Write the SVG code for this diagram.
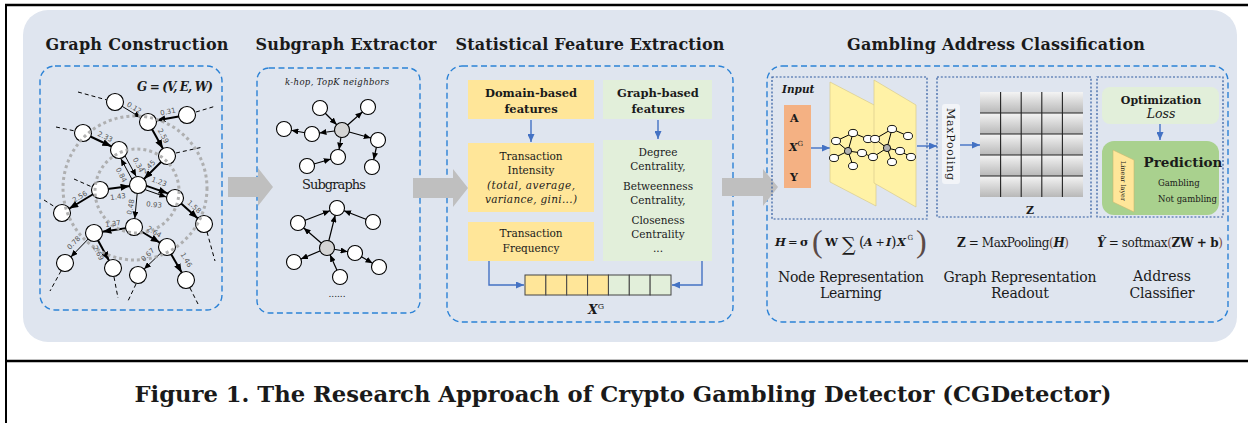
<svg xmlns="http://www.w3.org/2000/svg" width="1248" height="423" viewBox="0 0 1248 423">
<style>
.t{font-family:"DejaVu Serif","Liberation Serif",serif;fill:#1a1a1a}
.b{font-weight:bold}
.i{font-style:italic}
.dash{fill:none;stroke:#2b82d6;stroke-width:1.4;stroke-dasharray:6 3.5}
.dot{fill:none;stroke:#2f5aa0;stroke-width:1.2;stroke-dasharray:2 1.8}
.nd{fill:#fff;stroke:#000;stroke-width:1.1}
.gn{fill:#d4d4d4;stroke:#000;stroke-width:1.1}
.ek{stroke:#000;stroke-width:2;fill:none}
.en{stroke:#000;stroke-width:1;fill:none}
.dl{stroke:#000;stroke-width:1;stroke-dasharray:4 3;fill:none}
.lb{font-family:"DejaVu Sans","Liberation Sans",sans-serif;font-size:7px;fill:#555}
.se{stroke:#000;stroke-width:1.2;fill:none;marker-end:url(#sa)}
.bl{stroke:#4472c4;stroke-width:1.4;fill:none}
.ga{fill:#bfbfbf}
</style>
<defs>
<marker id="ak" markerUnits="userSpaceOnUse" markerWidth="9" markerHeight="7" refX="17.5" refY="3.5" orient="auto"><path d="M0,0L9,3.5L0,7z" fill="#000"/></marker>
<marker id="an" markerUnits="userSpaceOnUse" markerWidth="7" markerHeight="6" refX="15.5" refY="3" orient="auto"><path d="M0,0L7,3L0,6z" fill="#000"/></marker>
<marker id="sa" markerUnits="userSpaceOnUse" markerWidth="7" markerHeight="6" refX="14.5" refY="3" orient="auto"><path d="M0,0L7,3L0,6z" fill="#000"/></marker>
<marker id="bh" markerUnits="userSpaceOnUse" markerWidth="8" markerHeight="7" refX="8" refY="3.5" orient="auto"><path d="M0,0L8,3.5L0,7z" fill="#4472c4"/></marker>
<linearGradient id="cell" x1="0" y1="0" x2="0" y2="1"><stop offset="0" stop-color="#f4f4f4"/><stop offset="1" stop-color="#b8b8b8"/></linearGradient>
</defs>

<!-- frame -->
<line x1="5" y1="5" x2="1248" y2="5" stroke="#000" stroke-width="2.5"/>
<line x1="6" y1="4" x2="6" y2="423" stroke="#000" stroke-width="2"/>
<line x1="5" y1="361" x2="1248" y2="361" stroke="#000" stroke-width="2.5"/>
<rect x="23" y="10" width="1214" height="332" rx="25" fill="#dfe5ef"/>

<!-- titles -->
<text class="t b" x="137" y="50" font-size="16" text-anchor="middle" textLength="183">Graph Construction</text>
<text class="t b" x="346" y="50" font-size="16" text-anchor="middle" textLength="181">Subgraph Extractor</text>
<text class="t b" x="590" y="50" font-size="16" text-anchor="middle" textLength="269">Statistical Feature Extraction</text>
<text class="t b" x="996" y="50" font-size="16" text-anchor="middle" textLength="298">Gambling Address Classification</text>

<!-- section boxes -->
<rect class="dash" x="40" y="66" width="182" height="244" rx="15"/>
<rect class="dash" x="257" y="68" width="163" height="245" rx="12"/>
<rect class="dash" x="447" y="66" width="286" height="256" rx="15"/>
<rect class="dash" x="767" y="66" width="461" height="256" rx="15"/>

<!-- gray block arrows -->
<g id="flow">
<path class="ga" d="M228,177H258V168L273,187L258,206V197H228Z"/>
<path class="ga" d="M413,178H453V169L468,188L453,207V198H413Z"/>
<path class="ga" d="M722,178H763V169L778,187L763,206V196H722Z"/>
</g>

<!-- Graph construction -->
<g id="graph-construction">
<text class="t b i" x="137" y="91" font-size="12" textLength="76">G = (V, E, W)</text>
<g id="gc-dashed">
<line class="dl" x1="78" y1="92" x2="107" y2="100"/>
<line class="dl" x1="196" y1="112" x2="216" y2="106"/>
<line class="dl" x1="56" y1="127" x2="75" y2="131"/>
<line class="dl" x1="176" y1="153" x2="203" y2="147"/>
<line class="dl" x1="74" y1="179" x2="92" y2="187"/>
<line class="dl" x1="44" y1="200" x2="55" y2="207"/>
<line class="dl" x1="207" y1="232" x2="215" y2="261"/>
<line class="dl" x1="61" y1="271" x2="50" y2="291"/>
<line class="dl" x1="114" y1="277" x2="118" y2="298"/>
<line class="dl" x1="136" y1="284" x2="128" y2="301"/>
<line class="dl" x1="190" y1="288" x2="198" y2="304"/>
</g>
<g id="gc-edges">
<line class="en" x1="115" y1="102" x2="148" y2="122" marker-end="url(#an)"/>
<line class="ek" x1="187" y1="115" x2="148" y2="122" marker-end="url(#ak)"/>
<line class="ek" x1="148" y1="122" x2="167" y2="156" marker-end="url(#ak)"/>
<line class="ek" x1="83" y1="133" x2="119" y2="150" marker-end="url(#ak)"/>
<line class="ek" x1="167" y1="156" x2="138" y2="185" marker-end="url(#ak)"/>
<line class="en" x1="121.2" y1="148.8" x2="140.2" y2="183.8" marker-end="url(#an)"/>
<line class="en" x1="135.8" y1="186.2" x2="116.8" y2="151.2" marker-end="url(#an)"/>
<line class="ek" x1="100" y1="190" x2="138" y2="185" marker-end="url(#ak)"/>
<line class="ek" x1="138.7" y1="183.1" x2="175.7" y2="196.1" marker-end="url(#ak)"/>
<line class="en" x1="137.3" y1="186.9" x2="174.3" y2="199.9" marker-end="url(#an)"/>
<line class="ek" x1="100" y1="190" x2="62" y2="213" marker-end="url(#ak)"/>
<line class="ek" x1="175" y1="198" x2="204" y2="224" marker-end="url(#ak)"/>
<line class="en" x1="138" y1="185" x2="134" y2="227" marker-end="url(#an)"/>
<line class="ek" x1="134" y1="227" x2="94" y2="233" marker-end="url(#ak)"/>
<line class="ek" x1="134" y1="227" x2="167" y2="247" marker-end="url(#ak)"/>
<line class="en" x1="94" y1="233" x2="65" y2="263" marker-end="url(#an)"/>
<line class="ek" x1="94" y1="233" x2="113" y2="268" marker-end="url(#ak)"/>
<line class="en" x1="167" y1="247" x2="138" y2="275" marker-end="url(#an)"/>
<line class="ek" x1="167" y1="247" x2="186" y2="280" marker-end="url(#ak)"/>
</g>
<g id="gc-nodes">
<circle class="nd" cx="115" cy="102" r="8.5"/>
<circle class="nd" cx="148" cy="122" r="8.5"/>
<circle class="nd" cx="187" cy="115" r="8.5"/>
<circle class="nd" cx="83" cy="133" r="8.5"/>
<circle class="nd" cx="119" cy="150" r="8.5"/>
<circle class="nd" cx="167" cy="156" r="8.5"/>
<circle class="nd" cx="138" cy="185" r="8.5"/>
<circle class="nd" cx="100" cy="190" r="8.5"/>
<circle class="nd" cx="175" cy="198" r="8.5"/>
<circle class="nd" cx="62" cy="213" r="8.5"/>
<circle class="nd" cx="204" cy="224" r="8.5"/>
<circle class="nd" cx="134" cy="227" r="8.5"/>
<circle class="nd" cx="94" cy="233" r="8.5"/>
<circle class="nd" cx="167" cy="247" r="8.5"/>
<circle class="nd" cx="65" cy="263" r="8.5"/>
<circle class="nd" cx="113" cy="268" r="8.5"/>
<circle class="nd" cx="138" cy="275" r="8.5"/>
<circle class="nd" cx="186" cy="280" r="8.5"/>
</g>
<circle cx="135" cy="188" r="72" fill="none" stroke="#a8a8a8" stroke-width="3" stroke-dasharray="3 3" opacity="0.9"/>
<circle cx="137" cy="191" r="42" fill="none" stroke="#a8a8a8" stroke-width="3" stroke-dasharray="3 3" opacity="0.9"/>
<g id="gc-labels" text-anchor="middle" dominant-baseline="central">
<text class="lb" transform="translate(134,108) rotate(31)">0.12</text>
<text class="lb" transform="translate(168,112) rotate(-12)">0.31</text>
<text class="lb" transform="translate(163,136) rotate(61)">2.59</text>
<text class="lb" transform="translate(105,137) rotate(25)">2.33</text>
<text class="lb" transform="translate(149,167) rotate(-45)">2.45</text>
<text class="lb" transform="translate(138,165) rotate(61)">0.34</text>
<text class="lb" transform="translate(121,175) rotate(61)">0.84</text>
<text class="lb" transform="translate(118,197) rotate(-7)">1.43</text>
<text class="lb" transform="translate(159,182) rotate(20)">1.23</text>
<text class="lb" transform="translate(154,205) rotate(5)">0.93</text>
<text class="lb" transform="translate(80,197) rotate(-31)">2.56</text>
<text class="lb" transform="translate(194,207) rotate(42)">1.58</text>
<text class="lb" transform="translate(131,207) rotate(-80)">0.48</text>
<text class="lb" transform="translate(113,224) rotate(-8)">1.37</text>
<text class="lb" transform="translate(154,232) rotate(31)">2.64</text>
<text class="lb" transform="translate(74,243) rotate(-46)">0.78</text>
<text class="lb" transform="translate(98,253) rotate(61)">2.69</text>
<text class="lb" transform="translate(148,255) rotate(-44)">0.67</text>
<text class="lb" transform="translate(186,260) rotate(60)">1.46</text>
</g>
</g>

<!-- Subgraph extractor -->
<g id="subgraph-extractor">
<text class="t i" x="337" y="85" font-size="8.5" text-anchor="middle" textLength="104">k-hop, TopK neighbors</text>
<g id="sg-edges">
<line class="se" x1="320" y1="108" x2="342" y2="130"/>
<line class="se" x1="342" y1="130" x2="368" y2="107"/>
<line class="se" x1="342" y1="130" x2="312" y2="134"/>
<line class="se" x1="312" y1="134" x2="284" y2="129"/>
<line class="se" x1="342" y1="130" x2="378" y2="140"/>
<line class="se" x1="378" y1="140" x2="372" y2="167"/>
<line class="se" x1="342" y1="130" x2="338" y2="157"/>
<line class="se" x1="307" y1="166" x2="338" y2="157"/>
<line class="se" x1="327" y1="248" x2="337" y2="208"/>
<line class="se" x1="327" y1="248" x2="298" y2="223"/>
<line class="se" x1="298" y1="223" x2="337" y2="208"/>
<line class="se" x1="373" y1="222" x2="337" y2="208"/>
<line class="se" x1="327" y1="248" x2="294" y2="262"/>
<line class="se" x1="327" y1="248" x2="355" y2="253"/>
<line class="se" x1="355" y1="253" x2="379" y2="267"/>
<line class="se" x1="340" y1="277" x2="327" y2="248"/>
</g>
<g id="sg-nodes">
<circle class="gn" cx="342" cy="130" r="7.5"/>
<circle class="nd" cx="320" cy="108" r="7.5"/>
<circle class="nd" cx="368" cy="107" r="7.5"/>
<circle class="nd" cx="312" cy="134" r="7.5"/>
<circle class="nd" cx="284" cy="129" r="7.5"/>
<circle class="nd" cx="378" cy="140" r="7.5"/>
<circle class="nd" cx="372" cy="167" r="7.5"/>
<circle class="nd" cx="338" cy="157" r="7.5"/>
<circle class="nd" cx="307" cy="166" r="7.5"/>
<circle class="gn" cx="327" cy="248" r="7.5"/>
<circle class="nd" cx="337" cy="208" r="7.5"/>
<circle class="nd" cx="298" cy="223" r="7.5"/>
<circle class="nd" cx="373" cy="222" r="7.5"/>
<circle class="nd" cx="294" cy="262" r="7.5"/>
<circle class="nd" cx="355" cy="253" r="7.5"/>
<circle class="nd" cx="379" cy="267" r="7.5"/>
<circle class="nd" cx="340" cy="277" r="7.5"/>
</g>
<text class="t" x="334" y="189" font-size="13" text-anchor="middle" textLength="64">Subgraphs</text>
<text class="t" x="337" y="297" font-size="9" text-anchor="middle">......</text>
</g>

<!-- Statistical feature extraction -->
<g id="feature-extraction">
<g id="domain-features">
<rect x="468" y="80" width="126" height="39" fill="#ffe699"/>
<text class="t b" x="531" y="97" font-size="11.5" text-anchor="middle">Domain-based</text>
<text class="t b" x="531" y="113" font-size="11.5" text-anchor="middle">features</text>
</g>
<g id="graph-features">
<rect x="603" y="80" width="109" height="39" fill="#e2efda"/>
<text class="t b" x="658" y="97" font-size="11.5" text-anchor="middle">Graph-based</text>
<text class="t b" x="658" y="113" font-size="11.5" text-anchor="middle">features</text>
</g>
<g id="intensity">
<rect x="468" y="143" width="126" height="69" fill="#ffe699"/>
<text class="t" x="531" y="160" font-size="10.5" text-anchor="middle">Transaction</text>
<text class="t" x="531" y="174" font-size="10.5" text-anchor="middle">Intensity</text>
<text class="t i" x="531" y="189" font-size="10.5" text-anchor="middle" textLength="88">(total, average,</text>
<text class="t i" x="531" y="203" font-size="10.5" text-anchor="middle" textLength="92">variance, gini...)</text>
</g>
<g id="frequency">
<rect x="468" y="222" width="126" height="39" fill="#ffe699"/>
<text class="t" x="531" y="237" font-size="10.5" text-anchor="middle">Transaction</text>
<text class="t" x="531" y="252" font-size="10.5" text-anchor="middle">Frequency</text>
</g>
<g id="centrality">
<rect x="603" y="140" width="109" height="121" fill="#e2efda"/>
<text class="t" x="658" y="156" font-size="10.5" text-anchor="middle">Degree</text>
<text class="t" x="658" y="170" font-size="10.5" text-anchor="middle">Centrality,</text>
<text class="t" x="658" y="190" font-size="10.5" text-anchor="middle">Betweenness</text>
<text class="t" x="658" y="204" font-size="10.5" text-anchor="middle">Centrality,</text>
<text class="t" x="658" y="224" font-size="10.5" text-anchor="middle">Closeness</text>
<text class="t" x="658" y="238" font-size="10.5" text-anchor="middle">Centrality</text>
<text class="t" x="658" y="252" font-size="10.5" text-anchor="middle">...</text>
</g>
<g id="xg-vector" stroke="#444" stroke-width="1">
<rect x="525" y="275" width="20.86" height="20" fill="#ffe699"/>
<rect x="545.86" y="275" width="20.86" height="20" fill="#ffe699"/>
<rect x="566.71" y="275" width="20.86" height="20" fill="#ffe699"/>
<rect x="587.57" y="275" width="20.86" height="20" fill="#ffe699"/>
<rect x="608.43" y="275" width="20.86" height="20" fill="#e2efda"/>
<rect x="629.29" y="275" width="20.86" height="20" fill="#e2efda"/>
<rect x="650.14" y="275" width="20.86" height="20" fill="#e2efda"/>
</g>
<text class="t b i" x="596" y="314" font-size="12.5" text-anchor="middle">X<tspan font-size="8" dy="-5" font-style="normal" font-weight="normal">G</tspan></text>
</g>

<g id="connectors">
<line class="bl" x1="531" y1="120" x2="531" y2="142" marker-end="url(#bh)"/>
<line class="bl" x1="658" y1="120" x2="658" y2="139" marker-end="url(#bh)"/>
<path class="bl" d="M489,261V285H524" marker-end="url(#bh)"/>
<path class="bl" d="M702,261V285H672" marker-end="url(#bh)"/>
<line class="bl" x1="811" y1="148" x2="830" y2="148" marker-end="url(#bh)"/>
<line class="bl" x1="917" y1="146" x2="937" y2="146" marker-end="url(#bh)"/>
<line class="bl" x1="960" y1="145" x2="980" y2="145" marker-end="url(#bh)"/>
<line class="bl" x1="1160" y1="124" x2="1160" y2="140" marker-end="url(#bh)"/>
<line class="bl" x1="1105" y1="184" x2="1118" y2="184"/>
<line class="bl" x1="1136" y1="184" x2="1154" y2="184" marker-end="url(#bh)"/>
</g>

<!-- Gambling address classification -->
<g id="node-representation">
<rect class="dot" x="772" y="77" width="155" height="142"/>
<text class="t b i" x="782" y="93" font-size="10.5">Input</text>
<rect x="784" y="105" width="27" height="83" fill="#f4b183"/>
<text class="t b" x="790" y="122" font-size="11">A</text>
<text class="t b i" x="789" y="151" font-size="11">X<tspan font-size="7" dy="-5" font-style="normal" font-weight="normal">G</tspan></text>
<text class="t b" x="790" y="181" font-size="11">Y</text>
<polygon points="830,82 876,106 876,206 830,182" fill="#fff2a6" stroke="#d9cc8c" stroke-width="0.7"/>
<g stroke="#000" stroke-width="1">
<line x1="836" y1="141" x2="853" y2="133"/><line x1="836" y1="141" x2="848" y2="151"/><line x1="853" y1="133" x2="848" y2="151"/>
<line x1="848" y1="151" x2="834" y2="158"/><line x1="848" y1="151" x2="853" y2="166"/><line x1="848" y1="151" x2="862" y2="153"/>
<line x1="853" y1="133" x2="868" y2="139"/><line x1="862" y1="153" x2="873" y2="157"/>
</g>
<g stroke="#000" stroke-width="0.9" fill="#fff">
<ellipse cx="836" cy="141" rx="4.5" ry="3.6"/><ellipse cx="853" cy="133" rx="4.5" ry="3.6"/>
<ellipse cx="834" cy="158" rx="4.5" ry="3.6"/><ellipse cx="853" cy="166" rx="4.5" ry="3.6"/>
<ellipse cx="862" cy="153" rx="4.5" ry="3.6"/><ellipse cx="868" cy="139" rx="4.5" ry="3.6"/>
<ellipse cx="848" cy="151" rx="3.6" ry="3.6" fill="#b0b0b0"/>
</g>
<polygon points="874,80 916,105 916,207 874,183" fill="#fff2a6" stroke="#d9cc8c" stroke-width="0.7"/>
<g stroke="#000" stroke-width="1">
<line x1="875" y1="139" x2="892" y2="129"/><line x1="875" y1="139" x2="887" y2="148"/><line x1="892" y1="129" x2="887" y2="148"/>
<line x1="892" y1="129" x2="908" y2="136"/><line x1="887" y1="148" x2="900" y2="151"/><line x1="900" y1="151" x2="911" y2="157"/>
<line x1="887" y1="148" x2="892" y2="162"/><line x1="887" y1="148" x2="873" y2="157"/>
</g>
<g stroke="#000" stroke-width="0.9" fill="#fff">
<ellipse cx="875" cy="139" rx="4.5" ry="3.6"/><ellipse cx="892" cy="129" rx="4.5" ry="3.6"/>
<ellipse cx="908" cy="136" rx="4.5" ry="3.6"/><ellipse cx="900" cy="151" rx="4.5" ry="3.6"/>
<ellipse cx="911" cy="157" rx="4.5" ry="3.6"/><ellipse cx="892" cy="162" rx="4.5" ry="3.6"/>
<ellipse cx="873" cy="157" rx="4.5" ry="3.6"/>
<ellipse cx="887" cy="148" rx="3.6" ry="3.6" fill="#b0b0b0"/>
</g>
<g id="formula-h">
<text class="t b i" x="775" y="246" font-size="11.5">H</text>
<text class="t" x="788" y="246" font-size="11.5">=</text>
<text class="t b" x="800" y="246" font-size="11.5">σ</text>
<text x="812" y="252" font-size="32" fill="#5a4a48" font-family="Liberation Serif,serif">(</text>
<text class="t b" x="825" y="246" font-size="11.5">W</text>
<text class="t" x="842" y="251" font-size="19">∑</text>
<text class="t" x="859" y="247" font-size="14" fill="#5a4a48">(</text>
<text class="t b i" x="864" y="246" font-size="11">A</text>
<text class="t" x="875.5" y="246" font-size="11">+</text>
<text class="t b i" x="886" y="246" font-size="11">I</text>
<text class="t" x="891" y="247" font-size="14" fill="#5a4a48">)</text>
<text class="t b i" x="897" y="246" font-size="11.5">X</text>
<text class="t" x="907.5" y="240" font-size="7">G</text>
<text x="916" y="252" font-size="32" fill="#5a4a48" font-family="Liberation Serif,serif">)</text>
</g>
<text class="t" x="851" y="282" font-size="14" text-anchor="middle" textLength="146">Node Representation</text>
<text class="t" x="851" y="298" font-size="14" text-anchor="middle" textLength="62">Learning</text>
</g>

<g id="graph-readout">
<rect class="dot" x="937" y="77" width="154" height="140"/>
<rect x="942" y="104" width="18" height="80" rx="3" fill="#f2f4f8"/>
<text class="t" font-size="11" text-anchor="middle" transform="translate(951,144) rotate(90)" y="4" textLength="72">MaxPooling</text>
<g id="z-grid">
<rect x="980" y="92" width="103" height="21" fill="url(#cell)"/>
<rect x="980" y="113" width="103" height="21" fill="url(#cell)"/>
<rect x="980" y="134" width="103" height="21" fill="url(#cell)"/>
<rect x="980" y="155" width="103" height="21" fill="url(#cell)"/>
<rect x="980" y="176" width="103" height="21" fill="url(#cell)"/>
<g stroke="#222" stroke-width="1.1">
<line x1="1000.6" y1="92" x2="1000.6" y2="197"/><line x1="1021.2" y1="92" x2="1021.2" y2="197"/>
<line x1="1041.8" y1="92" x2="1041.8" y2="197"/><line x1="1062.4" y1="92" x2="1062.4" y2="197"/>
<line x1="980" y1="113" x2="1083" y2="113"/><line x1="980" y1="134" x2="1083" y2="134"/>
<line x1="980" y1="155" x2="1083" y2="155"/><line x1="980" y1="176" x2="1083" y2="176"/>
</g>
</g>
<text class="t b" x="1030" y="214" font-size="11" text-anchor="middle">Z</text>
<text class="t" x="957" y="247" font-size="12" textLength="112"><tspan font-weight="bold">Z</tspan> = MaxPooling<tspan fill="#7a4a40">(</tspan><tspan font-weight="bold" font-style="italic">H</tspan><tspan fill="#7a4a40">)</tspan></text>
<text class="t" x="1020" y="282" font-size="14" text-anchor="middle" textLength="153">Graph Representation</text>
<text class="t" x="1020" y="298" font-size="14" text-anchor="middle" textLength="58">Readout</text>
</g>

<g id="address-classifier">
<rect class="dot" x="1097" y="77" width="126" height="140"/>
<g id="optimization">
<rect x="1102" y="87" width="117" height="37" rx="8" fill="#e2efda"/>
<text class="t b" x="1161" y="104" font-size="11" text-anchor="middle">Optimization</text>
<text class="t i" x="1161" y="118" font-size="12.5" text-anchor="middle">Loss</text>
</g>
<g id="prediction">
<rect x="1102" y="141" width="117" height="74" rx="12" fill="#a9d18e"/>
<polygon points="1113,150 1134,160 1134,212 1113,202" fill="#ffe699" stroke="#c9b870" stroke-width="0.6"/>
<text class="t" font-size="6.5" text-anchor="middle" transform="translate(1123,181) rotate(90)" y="2.5">Linear layer</text>
<text class="t b" x="1183" y="167" font-size="13.5" text-anchor="middle">Prediction</text>
<text class="t" x="1158" y="186" font-size="8.5">Gambling</text>
<text class="t" x="1158" y="202" font-size="8.5">Not gambling</text>
</g>
<text class="t" x="1097" y="247" font-size="12" textLength="126"><tspan font-weight="bold" font-style="italic">Ŷ</tspan> = softmax<tspan fill="#7a4a40">(</tspan><tspan font-weight="bold">ZW + b</tspan><tspan fill="#7a4a40">)</tspan></text>
<text class="t" x="1162" y="281" font-size="14" text-anchor="middle" textLength="58">Address</text>
<text class="t" x="1162" y="298" font-size="14" text-anchor="middle" textLength="65">Classifier</text>
</g>

<text class="t b" x="623" y="402" font-size="23" text-anchor="middle" textLength="977" lengthAdjust="spacingAndGlyphs">Figure 1. The Research Approach of Crypto Gambling Detector (CGDetector)</text>
</svg>
